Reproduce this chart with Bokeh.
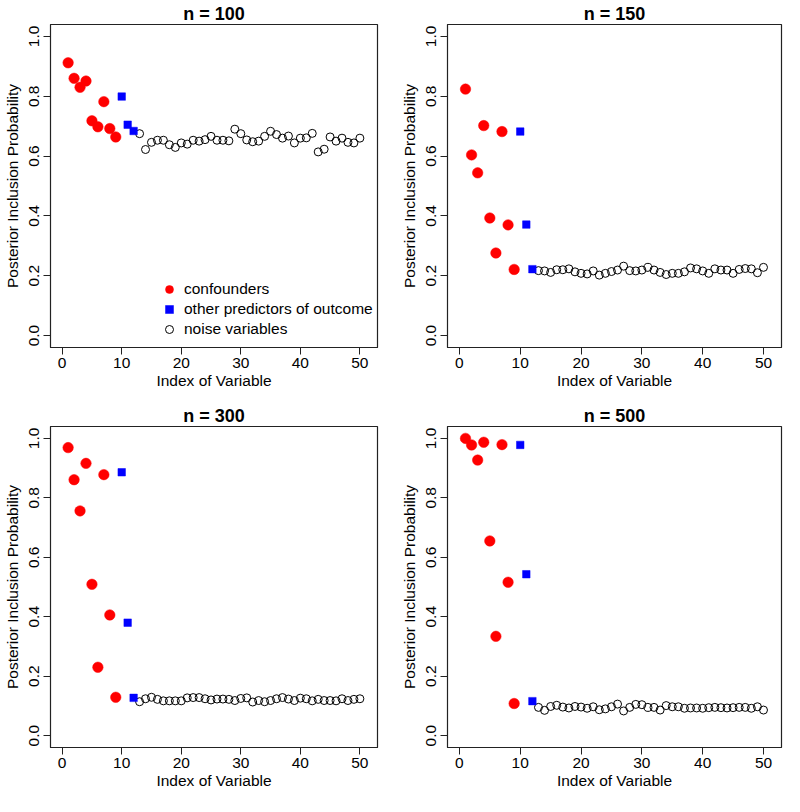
from bokeh.plotting import figure
from bokeh.layouts import column, row
from bokeh.models import FixedTicker, Range1d, Legend, LegendItem
from bokeh.embed import file_html
from bokeh.resources import INLINE

titles = ["n = 100", "n = 150", "n = 300", "n = 500"]

conf_idx = [1, 2, 3, 4, 5, 6, 7, 8, 9]
pred_idx = [10, 11, 12]
noise_idx = list(range(13, 51))

conf_100 = [0.912, 0.860, 0.830, 0.851, 0.718, 0.698, 0.782, 0.692, 0.664]
pred_100 = [0.799, 0.705, 0.684]
noise_100 = [0.675, 0.622, 0.646, 0.653, 0.653, 0.638, 0.629, 0.644, 0.640, 0.653,
             0.650, 0.655, 0.666, 0.653, 0.653, 0.651, 0.690, 0.675, 0.654, 0.648,
             0.650, 0.666, 0.683, 0.672, 0.660, 0.667, 0.644, 0.660, 0.661, 0.676,
             0.614, 0.623, 0.664, 0.650, 0.660, 0.646, 0.644, 0.660]

conf_150 = [0.824, 0.604, 0.544, 0.702, 0.393, 0.276, 0.682, 0.370, 0.221]
pred_150 = [0.682, 0.371, 0.222]
noise_150 = [0.217, 0.216, 0.211, 0.220, 0.220, 0.223, 0.213, 0.208, 0.206, 0.216,
             0.202, 0.208, 0.214, 0.219, 0.232, 0.217, 0.216, 0.219, 0.228, 0.219,
             0.211, 0.204, 0.208, 0.208, 0.213, 0.226, 0.223, 0.216, 0.208, 0.223,
             0.219, 0.219, 0.208, 0.221, 0.224, 0.223, 0.210, 0.228]

conf_300 = [0.969, 0.861, 0.756, 0.916, 0.509, 0.230, 0.878, 0.406, 0.129]
pred_300 = [0.886, 0.380, 0.127]
noise_300 = [0.114, 0.124, 0.129, 0.122, 0.117, 0.117, 0.117, 0.117, 0.127, 0.128,
             0.128, 0.124, 0.120, 0.123, 0.123, 0.122, 0.118, 0.125, 0.127, 0.113,
             0.118, 0.114, 0.118, 0.124, 0.128, 0.123, 0.118, 0.126, 0.124, 0.117,
             0.122, 0.118, 0.118, 0.117, 0.124, 0.118, 0.122, 0.124]

conf_500 = [1.000, 0.978, 0.927, 0.987, 0.655, 0.334, 0.979, 0.516, 0.108]
pred_500 = [0.978, 0.543, 0.116]
noise_500 = [0.095, 0.085, 0.098, 0.102, 0.096, 0.093, 0.098, 0.096, 0.092, 0.097,
             0.087, 0.090, 0.097, 0.106, 0.083, 0.095, 0.105, 0.104, 0.095, 0.095,
             0.086, 0.101, 0.097, 0.097, 0.092, 0.093, 0.093, 0.092, 0.094, 0.095,
             0.094, 0.093, 0.094, 0.095, 0.095, 0.092, 0.097, 0.086]

x_ticks = [0, 10, 20, 30, 40, 50]
y_ticks = [0.0, 0.2, 0.4, 0.6, 0.8, 1.0]
y_tick_labels = ["0.0", "0.2", "0.4", "0.6", "0.8", "1.0"]
legend_labels = ["confounders", "other predictors of outcome", "noise variables"]

FONT = "Liberation Sans"
FS = "15.5px"

FIG_W = 392
FIG_H = 396
borders = [
    dict(left=43, right=15, top=21, bottom=49),
    dict(left=55, right=3, top=21, bottom=49),
    dict(left=43, right=15, top=30, bottom=45),
    dict(left=55, right=3, top=30, bottom=45),
]

datasets = [
    (conf_100, pred_100, noise_100),
    (conf_150, pred_150, noise_150),
    (conf_300, pred_300, noise_300),
    (conf_500, pred_500, noise_500),
]

figs = []
for k, (conf, pred, noise) in enumerate(datasets):
    b = borders[k]
    p = figure(width=FIG_W, height=FIG_H, output_backend="svg", toolbar_location=None,
               x_range=Range1d(-1.96, 52.96), y_range=Range1d(-0.04, 1.04),
               min_border_left=b["left"], min_border_right=b["right"],
               min_border_top=b["top"], min_border_bottom=b["bottom"],
               title=titles[k])
    p.title.align = "center"
    p.title.text_font = FONT
    p.title.text_font_size = "18px"
    p.title.text_font_style = "bold"
    p.title.text_color = "black"
    p.title.standoff = 2
    p.title.offset = 0
    p.grid.visible = False
    p.outline_line_color = "#222222"
    p.outline_line_width = 1.2
    p.outline_line_alpha = 1.0
    p.background_fill_color = "white"
    p.border_fill_color = "white"

    for ax in (p.xaxis, p.yaxis):
        ax.axis_line_color = "#222222"
        ax.major_tick_line_color = "#222222"
        ax.major_tick_in = 0
        ax.major_tick_out = 7
        ax.minor_tick_line_color = None
        ax.major_label_text_font = FONT
        ax.major_label_text_font_size = FS
        ax.major_label_text_color = "black"
        ax.axis_label_text_font = FONT
        ax.axis_label_text_font_size = FS
        ax.axis_label_text_font_style = "normal"
        ax.axis_label_text_color = "black"

    p.xaxis.ticker = FixedTicker(ticks=x_ticks)
    p.yaxis.ticker = FixedTicker(ticks=y_ticks)
    p.yaxis.major_label_overrides = {t: s for t, s in zip(y_ticks, y_tick_labels)}
    p.yaxis.major_label_orientation = "vertical"
    p.xaxis.axis_label = "Index of Variable"
    p.yaxis.axis_label = "Posterior Inclusion Probability"
    p.xaxis.major_label_standoff = 3
    p.yaxis.major_label_standoff = 4
    p.xaxis.axis_label_standoff = 1
    p.yaxis.axis_label_standoff = 6

    r_noise = p.scatter(noise_idx, noise, marker="circle", size=8,
                        fill_color=None, line_color="black", line_width=1)
    r_conf = p.scatter(conf_idx, conf, marker="circle", size=10.5,
                       fill_color="#FF0000", line_color="#FF0000", line_width=0.5)
    r_pred = p.scatter(pred_idx, pred, marker="square", size=7.5,
                       fill_color="#0000FF", line_color="#0000FF", line_width=0.5)

    if k == 0:
        legend = Legend(items=[
            LegendItem(label=legend_labels[0], renderers=[r_conf]),
            LegendItem(label=legend_labels[1], renderers=[r_pred]),
            LegendItem(label=legend_labels[2], renderers=[r_noise]),
        ], location=(109, 8))
        legend.border_line_color = None
        legend.background_fill_alpha = 0
        legend.label_text_font = FONT
        legend.label_text_font_size = FS
        legend.label_text_color = "black"
        legend.glyph_width = 20
        legend.glyph_height = 20
        legend.label_height = 20
        legend.label_standoff = 5
        legend.spacing = 0
        legend.padding = 0
        legend.margin = 0
        p.add_layout(legend, "center")

    figs.append(p)

layout = column(row(figs[0], figs[1]), row(figs[2], figs[3]))
open("out.html", "w").write(file_html(layout, INLINE))
